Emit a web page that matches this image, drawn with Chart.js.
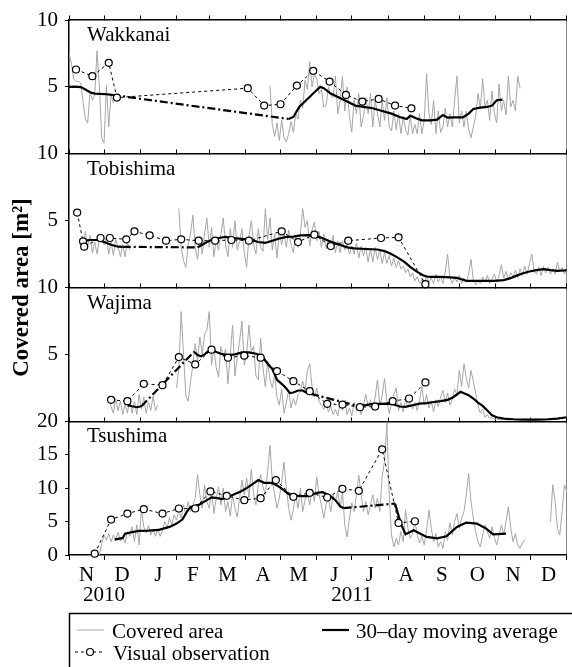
<!DOCTYPE html>
<html lang="en">
<head>
<meta charset="UTF-8">
<title>Covered area</title>
<script src="https://cdn.jsdelivr.net/npm/chart.js"></script>
<style>
  body { margin: 0; background: #fff; }
  #wrap { position: relative; width: 572px; height: 667px; }
</style>
</head>
<body>
<div id="wrap"><canvas id="areaChart"></canvas></div>
<script>
// x values are days counted from 1 Nov 2010
const monthStarts = [0, 30, 61, 92, 120, 151, 181, 212, 242, 273, 304, 334, 365, 395, 426];
const monthMids = [15, 45.5, 76.5, 106, 135.5, 166, 196.5, 227, 257.5, 288.5, 319, 349.5, 380, 410.5];
const monthLetters = ['N', 'D', 'J', 'F', 'M', 'A', 'M', 'J', 'J', 'A', 'S', 'O', 'N', 'D'];
const yearTicks = [30, 242];
const yearLabels = ['2010', '2011'];
const panelTicks = [5, 10];
const tsushimaTicks = [0, 5, 10, 15, 20];

// ---- Wakkanai ----
// daily covered area, one value every 2 days from the start day
const wakAreaA = [7.5, 6.8, 5.6, 5.4, 5.4, 5.3, 3.9, 2.6, 2.3, 4.7, 4.0, 4.4, 7.7, 5.0, 1.2, 0.8, 5.1, 2.0, 4.4, 3.8, 4.3];
const wakAreaB = [5.1, 2.2, 1.3, 2.3, 1.0, 2.5, 1.2, 0.9, 1.5, 2.4,
  1.6, 3.0, 2.6, 4.0, 3.4, 5.5, 4.8, 6.9, 5.0, 6.0,
  5.6, 4.5, 4.8, 3.5, 3.6, 5.0, 4.4, 4.2, 5.8, 3.0,
  4.0, 5.8, 3.2, 5.0, 2.8, 1.6, 4.0, 3.0, 4.5, 2.0,
  2.8, 4.2, 3.0, 4.5, 2.0, 4.0, 3.0, 2.0, 4.0, 2.5,
  4.2, 2.0, 1.7, 3.2, 1.8, 3.0, 1.5, 2.8, 1.8, 1.4,
  2.8, 1.5, 2.2, 1.5, 3.0, 1.5, 2.5, 6.0, 3.0, 2.2,
  4.0, 1.5, 3.2, 1.6, 2.0, 3.4, 2.0, 3.0, 2.0, 4.0,
  5.8, 2.3, 3.2, 2.0, 3.2, 1.8, 1.2, 2.0, 2.8, 4.5,
  3.4, 5.6, 3.5, 4.0, 2.5, 4.7, 3.0, 2.3, 5.2, 3.2,
  4.0, 2.9, 5.8, 3.5, 4.0, 3.2, 5.8, 4.9];
const wakMaDays = [0, 5, 10, 14, 18, 22, 27, 32, 37, 188, 192, 197, 203, 210, 215, 218, 224, 231, 238, 245, 252, 260, 268, 276, 283, 289, 292, 297, 302, 309, 315, 320, 324, 330, 337, 342, 346, 352, 358, 362, 366, 371];
const wakMa = [5.0, 5.02, 4.98, 4.8, 4.6, 4.5, 4.47, 4.45, 4.4, 2.6, 2.75, 3.5, 4.0, 4.6, 5.0, 4.9, 4.5, 4.2, 3.9, 3.6, 3.5, 3.4, 3.2, 3.0, 2.75, 2.6, 2.85, 2.65, 2.5, 2.5, 2.55, 2.9, 2.7, 2.72, 2.72, 3.0, 3.35, 3.45, 3.5, 3.6, 4.0, 4.05];
const wakObsDays = [6, 20, 34, 41, 153, 167, 181, 195, 209, 223, 237, 251, 265, 279, 293];
const wakObs = [6.3, 5.8, 6.8, 4.2, 4.9, 3.6, 3.7, 5.1, 6.2, 5.4, 4.4, 3.9, 4.1, 3.6, 3.4];

// ---- Tobishima ----
const tobAreaA = [3.6, 3.3, 4.2, 3.0, 3.9, 2.6, 3.4, 2.5, 3.6, 3.9, 3.2, 3.8, 2.5, 3.4, 2.4, 3.6, 3.0, 2.3, 3.2, 2.3, 3.4, 2.8];
const tobAreaB = [5.9, 3.0, 2.0, 1.5, 3.2, 4.0, 5.4, 3.0, 2.1, 3.8,
  2.5, 4.0, 5.2, 3.0, 4.5, 2.3, 3.6, 2.8, 4.0, 5.2,
  3.2, 2.3, 4.4, 3.0, 5.0, 2.8, 3.5, 4.4, 2.6, 1.5,
  3.8, 5.0, 3.2, 2.5, 4.4, 3.0, 2.7, 5.9, 3.6, 5.2,
  2.8, 4.0, 2.2, 4.2, 3.2, 4.0, 3.0, 4.3, 3.2, 2.6,
  3.9, 3.0, 4.0, 5.9, 4.5, 5.0, 3.1, 4.3, 4.9, 3.5,
  4.2, 3.0, 4.0, 2.9, 3.6, 2.8, 3.9, 2.6, 3.5, 2.6,
  3.5, 2.8, 3.3, 2.5, 3.1, 2.5, 3.3, 2.2, 3.1, 2.4,
  3.0, 1.9, 2.9, 1.9, 3.0, 2.1, 2.8, 1.8, 2.6, 1.8,
  2.4, 1.6, 2.2, 1.5, 2.0, 1.4, 1.6, 1.1, 1.4, 0.8,
  1.1, 0.5, 0.8, 0.3, 0.6, 0.2, 0.9, 0.4, 0.7, 0.3,
  1.0, 0.4, 0.8, 0.3, 1.2, 2.5, 0.7, 0.3, 0.8, 0.4,
  0.9, 0.3, 0.7, 0.4, 1.0, 2.1, 0.6, 0.2, 0.5, 0.3,
  0.8, 0.4, 0.9, 0.3, 0.6, 1.0, 0.4, 0.9, 1.7, 0.7,
  1.2, 0.6, 1.1, 0.8, 1.3, 0.7, 1.4, 0.9, 1.6, 1.0,
  1.8, 2.5, 1.2, 1.0, 1.5, 0.9, 1.6, 1.1, 1.5, 1.0,
  1.4, 1.0, 1.9, 1.2, 1.5, 1.0, 1.4];
const tobMaDays = [13, 18, 24, 30, 36, 42, 46, 110, 114, 118, 122, 128, 134, 140, 146, 152, 156, 162, 168, 174, 180, 186, 192, 198, 205, 210, 215, 222, 228, 233, 238, 244, 254, 264, 270, 275, 281, 287, 292, 298, 303, 306, 310, 318, 326, 332, 336, 340, 348, 356, 364, 372, 378, 382, 388, 394, 400, 406, 412, 418, 424, 426];
const tobMa = [3.5, 3.55, 3.55, 3.4, 3.2, 3.05, 3.04, 3.0, 3.2, 3.4, 3.55, 3.7, 3.79, 3.7, 3.65, 3.6, 3.54, 3.4, 3.34, 3.5, 3.66, 3.79, 3.8, 3.9, 3.91, 3.9, 3.75, 3.5, 3.3, 3.16, 3.0, 2.92, 2.88, 2.84, 2.72, 2.54, 2.25, 1.92, 1.55, 1.17, 0.92, 0.82, 0.8, 0.8, 0.75, 0.72, 0.62, 0.5, 0.5, 0.5, 0.5, 0.55, 0.7, 0.85, 1.05, 1.2, 1.3, 1.37, 1.3, 1.25, 1.28, 1.3];
const tobObsDays = [7, 12, 13, 27, 35, 49, 56, 69, 83, 96, 111, 125, 139, 154, 182, 196, 210, 224, 239, 267, 282, 305];
const tobObs = [5.6, 3.45, 3.05, 3.7, 3.7, 3.6, 4.2, 3.9, 3.5, 3.6, 3.5, 3.5, 3.55, 3.5, 4.2, 3.4, 3.95, 3.1, 3.5, 3.7, 3.75, 0.25];

// ---- Wajima ----
const wajAreaA = [1.6, 1.1, 0.6, 1.7, 0.8, 1.5, 0.5, 1.3, 0.6, 1.7, 0.6, 1.5, 0.5, 2.0, 0.9, 1.8, 0.6, 1.4, 0.8, 1.9, 0.8, 1.2];
const wajAreaB = [2.5, 4.0, 8.2, 5.0, 1.9, 1.5, 3.0, 4.2, 5.8, 4.5,
  6.3, 5.0, 6.5, 6.8, 8.2, 4.2, 5.5, 4.0, 3.3, 5.6,
  4.8, 5.4, 2.8, 5.0, 7.2, 3.4, 4.8, 6.0, 7.5, 4.2,
  5.0, 7.2, 5.2, 5.6, 3.4, 3.1, 6.2, 4.0, 2.6, 4.5,
  3.1, 2.5, 3.5, 1.8, 1.2, 2.4, 0.6, 1.4, 2.3, 1.0,
  1.7, 1.2, 2.0, 2.2, 3.0, 2.3, 3.8, 4.3, 2.6, 1.8,
  2.5, 1.5, 1.2, 0.9, 1.3, 0.7, 1.1, 0.5, 0.9, 0.4,
  1.3, 0.8, 1.6, 0.5, 1.0, 0.4, 1.4, 0.8, 1.3, 0.5,
  1.2, 2.0, 1.1, 1.6, 0.8, 1.8, 3.1, 1.2, 1.9, 3.2,
  1.5, 0.6, 1.3, 2.0, 2.5, 0.8, 1.4, 0.7, 1.6, 1.1,
  1.5, 0.9, 1.4, 0.8, 1.6, 2.6, 1.2, 2.0, 1.0, 1.5,
  0.7, 1.6, 1.1, 1.8, 2.3, 1.4, 2.1, 1.2, 1.6, 2.4,
  2.0, 3.8, 2.6, 4.3, 3.2, 2.5, 3.8, 3.0, 2.1, 1.2,
  0.6, 0.9, 0.3, 0.5, 0.2, 0.3, 0.1, 0.2, 0.1, 0.1,
  0.2, 0.1, 0.1, 0.1, 0.2, 0.1, 0.1, 0.1, 0.1, 0.2,
  0.1, 0.1, 0.1, 0.1, 0.2, 0.1, 0.1, 0.1, 0.1, 0.2,
  0.1, 0.2, 0.1, 0.2, 0.3, 0.2, 0.3, 0.3];
const wajMaDays = [50, 54, 58, 62, 107, 110, 113, 116, 120, 124, 130, 136, 142, 148, 154, 160, 165, 170, 174, 178, 182, 186, 189, 192, 196, 200, 204, 207, 248, 254, 260, 266, 272, 278, 283, 288, 294, 300, 306, 312, 318, 324, 328, 332, 335, 338, 342, 346, 350, 354, 358, 362, 366, 372, 380, 390, 400, 410, 418, 426];
const wajMa = [1.2, 1.12, 1.05, 1.12, 5.2, 4.95, 4.85, 5.0, 5.3, 5.25, 5.05, 4.95, 5.0, 5.15, 5.15, 5.05, 4.9, 4.3, 3.9, 3.1, 2.8, 2.45, 2.1, 2.15, 2.3, 2.3, 2.1, 2.05, 1.12, 1.2, 1.3, 1.3, 1.32, 1.25, 1.1, 1.07, 1.2, 1.32, 1.35, 1.44, 1.5, 1.6, 1.75, 2.0, 2.2, 2.1, 1.95, 1.7, 1.4, 1.15, 0.8, 0.45, 0.3, 0.2, 0.15, 0.12, 0.12, 0.15, 0.2, 0.3];
const wajObsDays = [36, 50, 64, 80, 94, 108, 122, 136, 150, 164, 178, 192, 206, 221, 234, 249, 262, 277, 291, 305];
const wajObs = [1.6, 1.5, 2.8, 2.7, 4.8, 4.25, 5.35, 4.75, 4.9, 4.75, 3.75, 3.0, 2.25, 1.3, 1.25, 1.05, 1.1, 1.5, 1.7, 2.9];

// ---- Tsushima ----
const tsuAreaA = [0.0, 1.7, 3.0, 2.2, 3.2, 2.0, 3.0, 2.4, 3.4, 2.1,
  2.6, 1.8, 3.5, 2.8, 4.2, 2.0, 4.5, 1.5, 7.0, 4.2,
  3.3, 4.4, 3.0, 3.8, 2.8, 4.0, 2.8, 3.6, 5.0, 4.0,
  5.6, 4.5, 6.0, 5.2, 6.8, 5.5, 7.5, 6.0, 8.0, 6.5,
  7.5, 8.5, 12.0, 9.0, 7.0, 10.5, 8.0, 7.0, 9.5, 6.2,
  8.5, 10.2, 7.5, 10.0, 6.5, 8.0, 5.8, 9.0, 7.0, 5.7,
  8.5, 11.2, 9.0, 11.5, 8.5, 12.8, 9.0, 7.5, 10.5, 12.0,
  10.2, 9.0, 12.5, 16.4, 11.0, 9.0, 7.0, 8.5, 11.0, 13.9,
  10.0, 7.0, 5.2, 6.8, 9.0, 7.0, 10.0, 6.5, 8.2, 9.5,
  7.5, 9.8, 8.0, 11.7, 9.0, 7.5, 5.5, 7.6, 8.5, 6.5,
  9.0, 8.0, 9.5, 7.0, 9.5, 4.5, 2.7, 5.5, 7.8, 6.5,
  9.0, 11.9, 9.0, 6.5, 8.0, 6.0, 7.5, 9.0, 7.0, 8.5,
  6.5, 11.7, 14.0, 19.8, 9.0, 3.0, 1.2, 2.5, 1.5, 3.5,
  2.0, 6.8, 4.0, 2.5, 3.2, 5.0, 3.0, 1.8, 2.8, 1.5,
  3.6, 6.7, 4.0, 2.0, 3.2, 1.2, 2.0, 1.0, 3.5, 2.2,
  4.8, 3.0, 5.0, 6.2, 4.0, 5.5, 6.5, 9.0, 12.2, 8.0,
  5.5, 3.5, 2.0, 1.2, 3.0, 4.5, 3.5, 2.5, 4.2, 2.6,
  1.5, 3.0, 4.5, 3.0, 5.0, 7.2, 4.0, 2.0, 3.2, 1.5,
  1.0, 1.8, 2.3];
const tsuAreaB = [5.0, 10.5, 8.0, 4.0, 3.0, 6.5, 10.5, 9.5];
const tsuMaDays = [39, 46, 48, 55, 60, 68, 77, 86, 92, 97, 101, 104, 111, 118, 122, 127, 131, 139, 147, 152, 158, 162, 167, 174, 178, 183, 188, 193, 199, 205, 212, 217, 223, 228, 232, 235, 279, 284, 288, 295, 306, 315, 323, 332, 340, 349, 357, 363, 374];
const tsuMa = [2.3, 2.55, 3.2, 3.45, 3.6, 3.65, 3.75, 4.2, 4.7, 5.3, 6.5, 7.2, 7.5, 8.2, 8.6, 8.5, 8.35, 8.9, 9.5, 10.0, 10.7, 11.2, 10.8, 10.8, 10.4, 9.8, 9.1, 8.9, 8.8, 8.8, 9.3, 9.4, 8.9, 8.2, 7.3, 7.0, 7.7, 4.7, 3.1, 3.7, 2.7, 2.5, 2.8, 4.2, 4.85, 4.7, 3.95, 3.1, 3.2];
const tsuObsDays = [22, 36, 50, 64, 80, 94, 108, 121, 135, 150, 164, 177, 192, 206, 221, 234, 248, 268, 282, 296];
const tsuObs = [0.2, 5.3, 6.2, 6.85, 6.2, 6.95, 6.95, 9.5, 8.85, 8.2, 8.5, 11.2, 8.7, 9.3, 8.6, 9.9, 9.6, 15.8, 4.8, 5.05];

// helpers to turn the arrays into {x, y} points
function daily(parts) {
  const pts = [];
  parts.forEach(([start, vals], k) => {
    if (k > 0) pts.push({ x: start - 1, y: null });  // break the line between parts
    vals.forEach((v, i) => pts.push({ x: start + i * 2, y: v }));
  });
  return pts;
}
function pairs(days, vals) {
  return days.map((d, i) => ({ x: d, y: vals[i] }));
}

const stations = [
  { name: 'Wakkanai', axis: 'y1', area: daily([[0, wakAreaA], [172, wakAreaB]]), ma: pairs(wakMaDays, wakMa), obs: pairs(wakObsDays, wakObs) },
  { name: 'Tobishima', axis: 'y2', area: daily([[10, tobAreaA], [94, tobAreaB]]), ma: pairs(tobMaDays, tobMa), obs: pairs(tobObsDays, tobObs) },
  { name: 'Wajima', axis: 'y3', area: daily([[34, wajAreaA], [92, wajAreaB]]), ma: pairs(wajMaDays, wajMa), obs: pairs(wajObsDays, wajObs) },
  { name: 'Tsushima', axis: 'y4', area: daily([[26, tsuAreaA], [412, tsuAreaB]]), ma: pairs(tsuMaDays, tsuMa), obs: pairs(tsuObsDays, tsuObs) }
];

// moving average: dash-dot where it jumps over missing data
const gapDash = ctx => (ctx.p1.parsed.x - ctx.p0.parsed.x > 20 ? [8, 3, 2, 3] : undefined);

const datasets = [];
stations.forEach(s => {
  datasets.push({
    label: 'Visual observation', data: s.obs, yAxisID: s.axis, order: 1,
    borderColor: '#000', borderWidth: 1, borderDash: [3, 3],
    pointRadius: 3.5, pointBackgroundColor: '#fff', pointBorderColor: '#000', pointBorderWidth: 1.2, clip: 6
  });
  datasets.push({
    label: '30–day moving average', data: s.ma, yAxisID: s.axis, order: 2,
    borderColor: '#000', borderWidth: 2.2, pointRadius: 0, segment: { borderDash: gapDash }
  });
  datasets.push({
    label: 'Covered area', data: s.area, yAxisID: s.axis, order: 3,
    borderColor: '#a6a6a6', borderWidth: 1, pointRadius: 0, spanGaps: false
  });
});

function xLabel(v) {
  const m = monthMids.indexOf(v);
  if (m >= 0) return monthLetters[m];
  const y = yearTicks.indexOf(v);
  if (y >= 0) return ['', yearLabels[y]];
  return '';
}

// a y axis for one panel; the stack puts the four panels on top of each other
function panelAxis(max, tickVals, weight) {
  return {
    type: 'linear', min: 0, max: max, position: 'left', stack: 'panels', stackWeight: 1, weight: weight,
    afterBuildTicks: s => { s.ticks = tickVals.map(v => ({ value: v })); },
    afterFit: s => { s.width = 32; },
    ticks: { padding: 7, autoSkip: false },
    grid: { drawOnChartArea: false, tickLength: 4, color: '#000' },
    border: { color: '#000', width: 1.5 }
  };
}
// an x axis lying on the top edge of one panel, ticks pointing up
function topAxis(yId, top) {
  return {
    type: 'linear', axis: 'x', min: 0, max: 426, position: { [yId]: top },
    afterBuildTicks: s => { s.ticks = monthStarts.map(v => ({ value: v })); },
    ticks: { display: false, autoSkip: false },
    grid: { drawOnChartArea: false, tickLength: -5, color: '#000' },
    border: { color: '#000', width: 1.5 }
  };
}

const panelNames = {
  id: 'panelNames',
  afterDatasetsDraw(chart) {
    const ctx = chart.ctx;
    ctx.save();
    ctx.font = '21px "Liberation Serif"';
    ctx.fillStyle = '#000';
    ctx.textBaseline = 'alphabetic';
    stations.forEach(s => {
      ctx.fillText(s.name, chart.chartArea.left + 18, chart.scales[s.axis].top + 21);
    });
    ctx.restore();
  }
};

// boxed legend under the axis, two columns like the original
const legendBox = {
  id: 'legendBox',
  afterDraw(chart) {
    const ctx = chart.ctx;
    const left = chart.chartArea.left;
    const top = 613;
    ctx.save();
    ctx.strokeStyle = '#000';
    ctx.lineWidth = 1.5;
    ctx.beginPath();
    ctx.moveTo(left + 0.5, chart.height + 5);
    ctx.lineTo(left + 0.5, top + 0.5);
    ctx.lineTo(chart.width + 5, top + 0.5);
    ctx.stroke();

    function sample(x1, x2, y, color, width, dash) {
      ctx.beginPath();
      ctx.strokeStyle = color;
      ctx.lineWidth = width;
      ctx.setLineDash(dash);
      ctx.moveTo(x1, y);
      ctx.lineTo(x2, y);
      ctx.stroke();
      ctx.setLineDash([]);
    }
    sample(left + 8, left + 35, 630, '#a6a6a6', 1, []);
    sample(322, 349, 630, '#000', 2.2, []);
    sample(left + 6, left + 36, 652, '#000', 1, [3, 3]);
    ctx.beginPath();
    ctx.arc(left + 21, 652, 3.5, 0, Math.PI * 2);
    ctx.fillStyle = '#fff';
    ctx.fill();
    ctx.strokeStyle = '#000';
    ctx.lineWidth = 1.2;
    ctx.stroke();

    ctx.font = '21px "Liberation Serif"';
    ctx.fillStyle = '#000';
    ctx.textBaseline = 'alphabetic';
    ctx.fillText('Covered area', left + 43, 637.5);
    ctx.fillText('30–day moving average', 356, 637.5);
    ctx.fillText('Visual observation', left + 44, 659.5);
    ctx.restore();
  }
};

Chart.defaults.font.family = '"Liberation Serif"';
Chart.defaults.font.size = 21;
Chart.defaults.color = '#000';

new Chart(document.getElementById('areaChart'), {
  type: 'line',
  data: { datasets: datasets },
  options: {
    responsive: true,
    maintainAspectRatio: false,
    animation: false,
    events: [],
    layout: { padding: { top: 20, right: 1, bottom: 62, left: 0 } },
    plugins: { legend: { display: false }, tooltip: { enabled: false } },
    scales: {
      x: {
        type: 'linear', min: 0, max: 426, position: 'bottom',
        afterBuildTicks: s => { s.ticks = monthStarts.concat(monthMids).sort((a, b) => a - b).map(v => ({ value: v })); },
        afterFit: s => { s.height = 50; },
        ticks: { autoSkip: false, maxRotation: 0, padding: 5, font: { size: 21, lineHeight: '20px' }, callback: v => xLabel(v) },
        grid: {
          tickLength: 5, lineWidth: 1,
          color: c => (c.tick && c.tick.value === 426 ? '#888' : 'transparent'),
          tickColor: c => (c.tick && monthStarts.includes(c.tick.value) ? '#000' : 'transparent')
        },
        border: { color: '#000', width: 1.5 }
      },
      xt1: topAxis('y1', 10),
      xt2: topAxis('y2', 10),
      xt3: topAxis('y3', 10),
      xt4: topAxis('y4', 20),
      ytitle: {
        type: 'linear', position: 'left', weight: 10,
        grid: { display: false, drawTicks: false },
        border: { display: false },
        ticks: { display: false },
        afterFit: s => { s.width = 37; },
        title: { display: true, text: 'Covered area [m²]', color: '#000', font: { size: 23, weight: 'bold' }, padding: { top: 8, bottom: 0 } }
      },
      y1: panelAxis(10, panelTicks, 4),
      y2: panelAxis(10, panelTicks, 3),
      y3: panelAxis(10, panelTicks, 2),
      y4: panelAxis(20, tsushimaTicks, 1)
    }
  },
  plugins: [panelNames, legendBox]
});
</script>
</body>
</html>
